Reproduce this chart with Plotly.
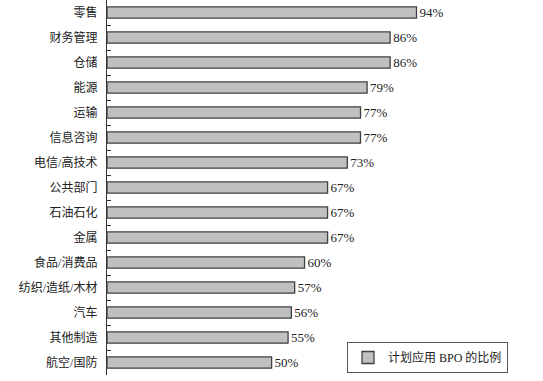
import plotly.graph_objects as go

categories = ["零售", "财务管理", "仓储", "能源", "运输", "信息咨询", "电信/高技术",
              "公共部门", "石油石化", "金属", "食品/消费品", "纺织/造纸/木材",
              "汽车", "其他制造", "航空/国防"]
values = [94, 86, 86, 79, 77, 77, 73, 67, 67, 67, 60, 57, 56, 55, 50]
series_name = "计划应用 BPO 的比例"

FONT = "Liberation Serif, Noto Sans CJK SC, serif"

W, H = 543, 381
L, R, T, B = 107, 8, 0, 6
PW, PH = W - L - R, H - T - B

fig = go.Figure()
fig.add_trace(go.Bar(
    x=values,
    y=categories,
    orientation="h",
    name=series_name,
    width=0.45,
    marker=dict(color="#c0c0c0", line=dict(color="#404040", width=1.3)),
    text=[f"{v}%" for v in values],
    textposition="outside",
    textfont=dict(family=FONT, size=13, color="#222222"),
    cliponaxis=False,
    showlegend=True,
    hoverinfo="skip",
))

fig.update_layout(
    width=W, height=H,
    margin=dict(l=L, r=R, t=T, b=B, autoexpand=False),
    paper_bgcolor="white", plot_bgcolor="white",
    font=dict(family=FONT, size=12, color="#222222"),
    uniformtext=dict(minsize=12, mode="show"),
    xaxis=dict(range=[0, 130], visible=False, showgrid=False, zeroline=False),
    yaxis=dict(
        autorange="reversed",
        showline=True, linecolor="#333333", linewidth=1.3,
        ticks="inside", ticklen=4, tickcolor="#333333", tickwidth=1.2,
        tickson="boundaries",
        showgrid=False,
        tickfont=dict(family=FONT, size=12, color="#222222"),
        ticklabelstandoff=6,
    ),
    legend=dict(
        x=(508 - L) / PW, y=1 - (342 - T) / PH,
        xanchor="right", yanchor="top",
        bordercolor="#555555", borderwidth=1,
        bgcolor="white",
        font=dict(family=FONT, size=12, color="#222222"),
        itemwidth=30,
    ),
)

fig.write_html("out.html", config={"displayModeBar": False},
               post_script="document.body.style.margin='0px';")
